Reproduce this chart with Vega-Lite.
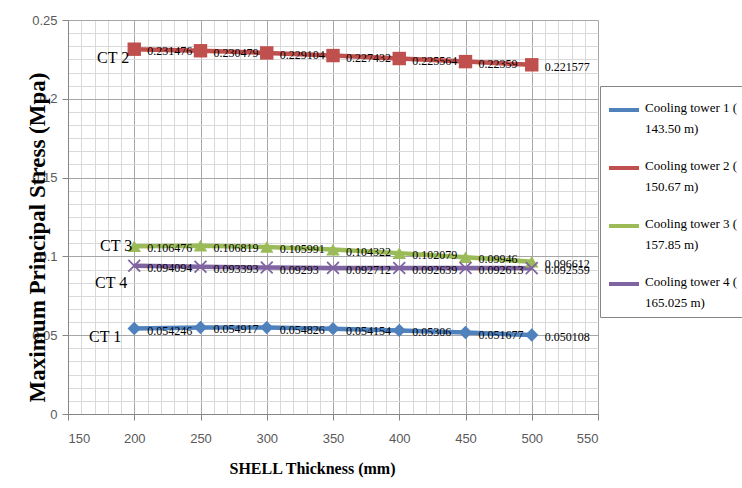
{
  "$schema": "https://vega.github.io/schema/vega-lite/v6.json",
  "autosize": {"type": "none"},
  "padding": {"left": 68, "top": 20, "right": 144, "bottom": 74},
  "width": 530,
  "height": 394,
  "background": "white",
  "config": {"view": {"stroke": null}},
  "datasets": {
    "main": [
      {"series": "Cooling tower 1 ( 143.50 m)", "x": 200, "y": 0.054246},
      {"series": "Cooling tower 1 ( 143.50 m)", "x": 250, "y": 0.054917},
      {"series": "Cooling tower 1 ( 143.50 m)", "x": 300, "y": 0.054826},
      {"series": "Cooling tower 1 ( 143.50 m)", "x": 350, "y": 0.054154},
      {"series": "Cooling tower 1 ( 143.50 m)", "x": 400, "y": 0.05306},
      {"series": "Cooling tower 1 ( 143.50 m)", "x": 450, "y": 0.051677},
      {"series": "Cooling tower 1 ( 143.50 m)", "x": 500, "y": 0.050108},
      {"series": "Cooling tower 2 ( 150.67 m)", "x": 200, "y": 0.231476},
      {"series": "Cooling tower 2 ( 150.67 m)", "x": 250, "y": 0.230479},
      {"series": "Cooling tower 2 ( 150.67 m)", "x": 300, "y": 0.229104},
      {"series": "Cooling tower 2 ( 150.67 m)", "x": 350, "y": 0.227432},
      {"series": "Cooling tower 2 ( 150.67 m)", "x": 400, "y": 0.225564},
      {"series": "Cooling tower 2 ( 150.67 m)", "x": 450, "y": 0.22359},
      {"series": "Cooling tower 2 ( 150.67 m)", "x": 500, "y": 0.221577},
      {"series": "Cooling tower 3 ( 157.85 m)", "x": 200, "y": 0.106476},
      {"series": "Cooling tower 3 ( 157.85 m)", "x": 250, "y": 0.106819},
      {"series": "Cooling tower 3 ( 157.85 m)", "x": 300, "y": 0.105991},
      {"series": "Cooling tower 3 ( 157.85 m)", "x": 350, "y": 0.104322},
      {"series": "Cooling tower 3 ( 157.85 m)", "x": 400, "y": 0.102079},
      {"series": "Cooling tower 3 ( 157.85 m)", "x": 450, "y": 0.09946},
      {"series": "Cooling tower 3 ( 157.85 m)", "x": 500, "y": 0.096612},
      {"series": "Cooling tower 4 ( 165.025 m)", "x": 200, "y": 0.094094},
      {"series": "Cooling tower 4 ( 165.025 m)", "x": 250, "y": 0.093393},
      {"series": "Cooling tower 4 ( 165.025 m)", "x": 300, "y": 0.09293},
      {"series": "Cooling tower 4 ( 165.025 m)", "x": 350, "y": 0.092712},
      {"series": "Cooling tower 4 ( 165.025 m)", "x": 400, "y": 0.092639},
      {"series": "Cooling tower 4 ( 165.025 m)", "x": 450, "y": 0.092613},
      {"series": "Cooling tower 4 ( 165.025 m)", "x": 500, "y": 0.092559}
    ],
    "ct": [
      {"label": "CT 1", "x": 200, "y": 0.054246},
      {"label": "CT 2", "x": 200, "y": 0.231476},
      {"label": "CT 3", "x": 200, "y": 0.106476},
      {"label": "CT 4", "x": 200, "y": 0.094094}
    ]
  },
  "encoding": {
    "x": {
      "field": "x", "type": "quantitative",
      "scale": {"domain": [150, 550], "nice": false, "zero": false},
      "axis": {
        "title": "SHELL Thickness (mm)",
        "titleFont": "Liberation Serif", "titleFontSize": 16, "titleFontWeight": "bold", "titleColor": "#000000",
        "titleX": 244, "titleY": 59, "titleBaseline": "alphabetic", "titleAlign": "center", "titleAnchor": null,
        "values": [150,160,170,180,190,200,210,220,230,240,250,260,270,280,290,300,310,320,330,340,350,360,370,380,390,400,410,420,430,440,450,460,470,480,490,500,510,520,530,540,550],
        "labelExpr": "datum.value % 50 === 0 ? datum.label : ''",
        "labelOverlap": false,
        "labelFont": "Liberation Sans Narrow, Arial Narrow, Liberation Sans", "labelFontSize": 13, "labelColor": "#595959",
        "labelPadding": 12,
        "grid": true,
        "gridColor": {"condition": {"test": "datum.value % 50 === 0", "value": "#a6a6a6"}, "value": "#d9d9d9"},
        "gridWidth": 1,
        "tickOpacity": {"condition": {"test": "datum.value % 50 === 0", "value": 1}, "value": 0},
        "tickSize": 6, "tickColor": "#868686",
        "domainColor": "#868686"
      }
    },
    "y": {
      "field": "y", "type": "quantitative",
      "scale": {"domain": [0, 0.25], "nice": false},
      "axis": {
        "title": "Maximum Principal Stress (Mpa)",
        "titleFont": "Liberation Serif", "titleFontSize": 23, "titleFontWeight": "bold", "titleColor": "#000000",
        "titleX": -31, "titleY": 217, "titleAngle": 270, "titleBaseline": "middle", "titleAlign": "center", "titleAnchor": null,
        "values": [0, 0.00833333, 0.01666667, 0.025, 0.03333333, 0.04166667, 0.05, 0.05833333, 0.06666667, 0.075, 0.08333333, 0.09166667, 0.1, 0.10833333, 0.11666667, 0.125, 0.13333333, 0.14166667, 0.15, 0.15833333, 0.16666667, 0.175, 0.18333333, 0.19166667, 0.2, 0.20833333, 0.21666667, 0.225, 0.23333333, 0.24166667, 0.25],
        "labelExpr": "abs(datum.value*20 - round(datum.value*20)) < 0.001 ? format(datum.value, '.2~f') : ''",
        "labelOverlap": false,
        "labelFont": "Liberation Sans Narrow, Arial Narrow, Liberation Sans", "labelFontSize": 13, "labelColor": "#595959",
        "labelPadding": 5,
        "grid": true,
        "gridColor": {"condition": {"test": "abs(datum.value*20 - round(datum.value*20)) < 0.001", "value": "#a6a6a6"}, "value": "#d9d9d9"},
        "gridWidth": 1,
        "tickOpacity": {"condition": {"test": "abs(datum.value*20 - round(datum.value*20)) < 0.001", "value": 1}, "value": 0},
        "tickSize": 6, "tickColor": "#868686",
        "domainColor": "#868686"
      }
    }
  },
  "layer": [
    {
      "data": {"name": "main"},
      "mark": {"type": "line", "strokeWidth": 4.5},
      "encoding": {
        "color": {
          "field": "series", "type": "nominal",
          "scale": {"range": ["#4F81BD", "#C0504D", "#9BBB59", "#8064A2"]},
          "legend": {
            "title": null,
            "orient": "none", "legendX": 532, "legendY": 66,
            "strokeColor": "#868686", "fillColor": "white", "padding": 7,
            "symbolType": "stroke", "symbolSize": 900, "symbolStrokeWidth": 4,
            "labelFont": "Liberation Serif", "labelFontSize": 13, "labelColor": "#000000",
            "labelBaseline": "top", "labelOffset": 4, "labelLimit": 200,
            "labelExpr": "[slice(datum.label, 0, 17), slice(datum.label, 18)]",
            "rowPadding": 15,
            "encode": {
              "labels": {"update": {"lineHeight": {"value": 21}, "dy": {"value": -8}}},
              "symbols": {"update": {"stroke": {"scale": "color", "field": "value"}, "strokeWidth": {"value": 4}}}
            }
          }
        }
      }
    },
    {
      "data": {"name": "main"},
      "transform": [{"filter": "datum.series !== 'Cooling tower 4 ( 165.025 m)'"}],
      "mark": {"type": "point", "filled": true, "opacity": 1, "size": 180},
      "encoding": {
        "color": {"field": "series", "type": "nominal"},
        "shape": {
          "field": "series", "type": "nominal",
          "scale": {"domain": ["Cooling tower 1 ( 143.50 m)", "Cooling tower 2 ( 150.67 m)", "Cooling tower 3 ( 157.85 m)", "Cooling tower 4 ( 165.025 m)"], "range": ["diamond", "square", "triangle-up", "M-1,-1L1,1M-1,1L1,-1"]},
          "legend": null
        }
      }
    },
    {
      "data": {"name": "main"},
      "transform": [{"filter": "datum.series === 'Cooling tower 4 ( 165.025 m)'"}],
      "mark": {"type": "point", "filled": false, "opacity": 1, "size": 140, "strokeWidth": 1.8},
      "encoding": {
        "color": {"field": "series", "type": "nominal"},
        "shape": {"field": "series", "type": "nominal", "legend": null}
      }
    },
    {
      "data": {"name": "main"},
      "mark": {"type": "text", "align": "left", "baseline": "middle", "dx": 13, "dy": 2, "font": "Liberation Serif", "fontSize": 12, "color": "#000000"},
      "encoding": {"text": {"field": "y", "type": "nominal"}}
    },
    {
      "data": {"name": "ct"},
      "transform": [{"filter": "datum.label === 'CT 1'"}],
      "mark": {"type": "text", "align": "right", "baseline": "middle", "dx": -13, "dy": 8, "font": "Liberation Serif", "fontSize": 16, "color": "#000000"},
      "encoding": {"text": {"field": "label", "type": "nominal"}}
    },
    {
      "data": {"name": "ct"},
      "transform": [{"filter": "datum.label === 'CT 2'"}],
      "mark": {"type": "text", "align": "right", "baseline": "middle", "dx": -5, "dy": 9, "font": "Liberation Serif", "fontSize": 16, "color": "#000000"},
      "encoding": {"text": {"field": "label", "type": "nominal"}}
    },
    {
      "data": {"name": "ct"},
      "transform": [{"filter": "datum.label === 'CT 3'"}],
      "mark": {"type": "text", "align": "right", "baseline": "middle", "dx": -2, "dy": 0, "font": "Liberation Serif", "fontSize": 16, "color": "#000000"},
      "encoding": {"text": {"field": "label", "type": "nominal"}}
    },
    {
      "data": {"name": "ct"},
      "transform": [{"filter": "datum.label === 'CT 4'"}],
      "mark": {"type": "text", "align": "right", "baseline": "middle", "dx": -7, "dy": 17, "font": "Liberation Serif", "fontSize": 16, "color": "#000000"},
      "encoding": {"text": {"field": "label", "type": "nominal"}}
    }
  ]
}
